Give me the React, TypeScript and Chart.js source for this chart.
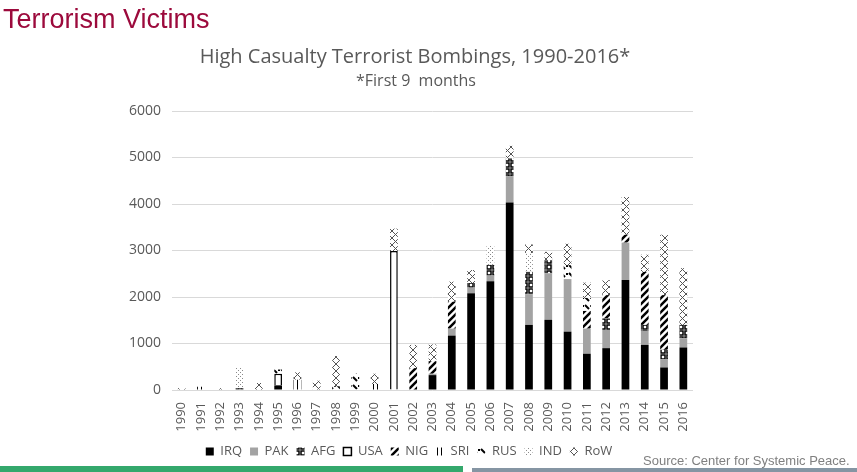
import React, { useEffect, useRef } from "react";
import { Chart, registerables } from "chart.js";
Chart.register(...registerables);

const years = [
  "1990","1991","1992","1993","1994","1995","1996","1997","1998","1999",
  "2000","2001","2002","2003","2004","2005","2006","2007","2008","2009",
  "2010","2011","2012","2013","2014","2015","2016",
];
const IRQ = [0,0,0,0,0,100,0,0,0,0,0,0,0,320,1170,2080,2340,4030,1400,1510,1255,780,900,2365,970,485,915];
const PAK = [0,0,0,0,0,0,0,0,0,0,0,0,0,30,150,120,120,570,660,1000,1130,540,390,805,300,180,200];
const AFG = [0,0,0,40,0,0,0,0,0,0,0,0,0,0,0,100,230,380,480,280,0,0,250,0,130,200,285];
const USA = [0,0,0,0,0,250,0,0,0,0,0,2990,0,0,0,0,0,0,0,0,0,0,0,0,0,0,0];
const NIG = [0,0,0,0,0,0,0,0,0,0,0,0,470,270,580,0,0,0,0,0,0,380,500,170,1140,1175,0];
const SRI = [0,70,0,0,0,0,220,0,0,0,130,0,0,0,0,0,0,0,0,0,0,0,0,0,0,0,0];
const RUS = [0,0,0,0,0,90,0,0,80,360,0,0,0,0,0,0,0,0,0,0,300,280,0,0,0,0,0];
const IND = [0,0,0,440,0,0,0,0,0,0,0,0,0,0,0,0,420,0,400,0,0,0,0,0,0,0,0];
const RoW = [40,0,40,0,150,0,160,200,650,0,220,480,500,360,430,280,0,270,190,180,460,330,320,810,370,1300,1220];
const yTicks = [0,1000,2000,3000,4000,5000,6000];

function makePattern(size: number, draw: (ctx: CanvasRenderingContext2D, s: number) => void) {
  const c = document.createElement("canvas");
  c.width = size;
  c.height = size;
  const ctx = c.getContext("2d")!;
  ctx.fillStyle = "#ffffff";
  ctx.fillRect(0, 0, size, size);
  draw(ctx, size);
  return ctx.createPattern(c, "repeat")!;
}

export default function App() {
  const ref = useRef<HTMLCanvasElement | null>(null);
  useEffect(() => {
    if (!ref.current) return;
    const pAFG = makePattern(6, (ctx) => {
      ctx.strokeStyle = "#000";
      ctx.lineWidth = 1.5;
      ctx.strokeRect(1, 1, 4, 4);
    });
    const pNIG = makePattern(7, (ctx, s) => {
      ctx.strokeStyle = "#000";
      ctx.lineWidth = 2.5;
      ctx.beginPath();
      ctx.moveTo(-1, s + 1); ctx.lineTo(s + 1, -1);
      ctx.moveTo(-1, 1); ctx.lineTo(1, -1);
      ctx.moveTo(s - 1, s + 1); ctx.lineTo(s + 1, s - 1);
      ctx.stroke();
    });
    const pSRI = makePattern(4, (ctx) => {
      ctx.fillStyle = "#000";
      ctx.fillRect(1, 0, 1, 4);
    });
    const pRUS = makePattern(8, (ctx) => {
      ctx.strokeStyle = "#000";
      ctx.lineWidth = 2;
      ctx.beginPath();
      ctx.moveTo(1, 1); ctx.lineTo(5, 5);
      ctx.stroke();
      ctx.fillStyle = "#000";
      ctx.fillRect(6, 1, 2, 2);
    });
    const pIND = makePattern(4, (ctx) => {
      ctx.fillStyle = "#8a8a8a";
      ctx.fillRect(0, 0, 1, 1);
      ctx.fillRect(2, 2, 1, 1);
    });
    const pRoW = makePattern(7, (ctx, s) => {
      ctx.strokeStyle = "#555";
      ctx.lineWidth = 1;
      ctx.beginPath();
      ctx.moveTo(0, 0); ctx.lineTo(s, s);
      ctx.moveTo(s, 0); ctx.lineTo(0, s);
      ctx.stroke();
    });

    const mk = (label: string, data: number[], bg: any, extra: any = {}) => ({
      label, data, backgroundColor: bg, borderWidth: 0, borderColor: "#000",
      categoryPercentage: 0.8, barPercentage: 0.5, ...extra,
    });

    const chart = new Chart(ref.current, {
      type: "bar",
      data: {
        labels: years,
        datasets: [
          mk("IRQ", IRQ, "#000000"),
          mk("PAK", PAK, "#a3a3a3"),
          mk("AFG", AFG, pAFG),
          mk("USA", USA, "#ffffff", { borderWidth: 1.5, borderColor: "#000" }),
          mk("NIG", NIG, pNIG),
          mk("SRI", SRI, pSRI),
          mk("RUS", RUS, pRUS),
          mk("IND", IND, pIND),
          mk("RoW", RoW, pRoW),
        ],
      },
      options: {
        animation: false,
        responsive: false,
        maintainAspectRatio: false,
        layout: { padding: { left: 125, right: 164, top: 111, bottom: 4 } },
        plugins: {
          legend: {
            position: "bottom",
            labels: {
              boxWidth: 8,
              boxHeight: 8,
              padding: 8,
              color: "#595959",
              font: { family: "Open Sans", size: 13 },
            },
          },
          tooltip: { enabled: false },
        },
        scales: {
          x: {
            stacked: true,
            grid: { display: false },
            border: { display: false },
            ticks: {
              autoSkip: false,
              minRotation: 90,
              maxRotation: 90,
              padding: 4,
              color: "#595959",
              font: { family: "Open Sans", size: 13 },
            },
            afterFit: (s: any) => { s.height = 47; },
          },
          y: {
            stacked: true,
            min: 0,
            max: 6000,
            afterBuildTicks: (s: any) => { s.ticks = yTicks.map((v) => ({ value: v })); },
            grid: { color: "#d9d9d9", lineWidth: 1, drawTicks: false },
            border: { display: false },
            ticks: {
              padding: 11,
              color: "#595959",
              font: { family: "Open Sans", size: 14 },
              callback: (v: any) => String(v),
            },
            afterFit: (s: any) => { s.width = 47; },
          },
        },
      },
    } as any);
    return () => chart.destroy();
  }, []);

  return (
    <div style={{ position: "absolute", left: 0, top: 0, width: 857, height: 472, overflow: "hidden", background: "#fff" }}>
      <canvas ref={ref} width={857} height={472} style={{ position: "absolute", left: 0, top: 0, width: 857, height: 472 }} />
      <div style={{ position: "absolute", left: 3, top: 4, fontFamily: "Liberation Sans, Arial, sans-serif", fontSize: 27, color: "#9c0a3c", whiteSpace: "nowrap" }}>
        Terrorism Victims
      </div>
      <div style={{ position: "absolute", left: 0, width: 830, top: 42, textAlign: "center", fontFamily: "Open Sans", fontSize: 20, color: "#595959", whiteSpace: "nowrap" }}>
        High Casualty Terrorist Bombings, 1990-2016*
      </div>
      <div style={{ position: "absolute", left: 0, width: 832, top: 69, textAlign: "center", fontFamily: "Open Sans", fontSize: 16, color: "#595959", whiteSpace: "pre" }}>
        {"*First 9  months"}
      </div>
      <div style={{ position: "absolute", left: 643, top: 453, fontFamily: "Liberation Sans, Arial, sans-serif", fontSize: 13, color: "#808080", whiteSpace: "nowrap" }}>
        Source: Center for Systemic Peace.
      </div>
      <div style={{ position: "absolute", left: 0, top: 466, width: 463, height: 6, background: "#34a86c" }} />
      <div style={{ position: "absolute", left: 472, top: 468, width: 385, height: 4, background: "#8595a3" }} />
    </div>
  );
}
